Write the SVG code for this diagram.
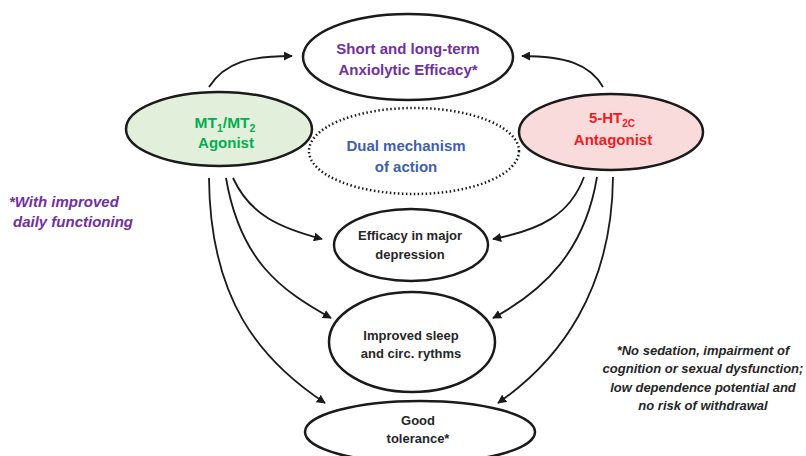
<svg xmlns="http://www.w3.org/2000/svg" width="806" height="456" viewBox="0 0 806 456">
<defs>
<marker id="ah" viewBox="0 0 10 10" refX="9" refY="5" markerWidth="9" markerHeight="9" markerUnits="userSpaceOnUse" orient="auto">
<path d="M0,0 L10,5 L0,10 z" fill="#1a1a1a"/>
</marker>
<style>
.n{fill:#fff;stroke:#1a1a1a;stroke-width:2.5}
.t{font-family:"Liberation Sans",Arial,sans-serif;font-weight:bold;font-size:13px;text-anchor:middle;fill:#262626}
.c{fill:none;stroke:#1a1a1a;stroke-width:1.8;marker-end:url(#ah)}
.note{font-family:"Liberation Sans",Arial,sans-serif;font-weight:bold;font-style:italic;font-size:13px;fill:#262626}
</style>
</defs>
<rect width="806" height="456" fill="#fff"/>
<g id="connectors">
<path class="c" d="M209,87 C225,62 250,56 292,56"/>
<path class="c" d="M603,87 C590,64 565,56 522,56"/>
<path class="c" d="M233,178 C250,215 280,228 322,239"/>
<path class="c" d="M226,178 C240,260 280,290 331,318"/>
<path class="c" d="M209,178 C210,300 260,360 325,403"/>
<path class="c" d="M584,177 C570,215 540,230 493,239"/>
<path class="c" d="M597,177 C585,250 545,290 493,318"/>
<path class="c" d="M613,177 C612,290 560,360 498,403"/>
</g>
<g id="anxiolytic">
<ellipse class="n" cx="408" cy="57" rx="105" ry="43"/>
<text class="t" x="408" y="54" style="fill:#7030A0;font-size:15px">Short and long-term</text>
<text class="t" x="408" y="75" style="fill:#7030A0;font-size:15px">Anxiolytic Efficacy*</text>
</g>
<g id="mt">
<ellipse class="n" cx="219" cy="129" rx="93" ry="37" style="fill:#E2EFDA"/>
<text class="t" x="225" y="128" style="fill:#00B050;font-size:15.5px">MT<tspan font-size="10.5" dy="4">1</tspan><tspan dy="-4">/MT</tspan><tspan font-size="10.5" dy="4">2</tspan></text>
<text class="t" x="226" y="148" style="fill:#00B050;font-size:15px">Agonist</text>
</g>
<g id="dual">
<ellipse cx="414" cy="151" rx="105" ry="43" fill="#fff" stroke="#1a1a1a" stroke-width="2.5" stroke-dasharray="1.5 2.5"/>
<text class="t" x="406" y="151" style="fill:#3F5FB0;font-size:15px">Dual mechanism</text>
<text class="t" x="406" y="172" style="fill:#3F5FB0;font-size:15px">of action</text>
</g>
<g id="ht">
<ellipse class="n" cx="611" cy="132" rx="92" ry="38" style="fill:#FADBDB"/>
<text class="t" x="612" y="123" style="fill:#EE1C25;font-size:15px">5-HT<tspan font-size="10" dy="4">2C</tspan></text>
<text class="t" x="613" y="145" style="fill:#EE1C25;font-size:15px">Antagonist</text>
</g>
<g id="depression">
<ellipse class="n" cx="411" cy="245" rx="77" ry="36"/>
<text class="t" x="410" y="240">Efficacy in major</text>
<text class="t" x="410" y="259">depression</text>
</g>
<g id="sleep">
<ellipse class="n" cx="412" cy="342" rx="83" ry="50"/>
<text class="t" x="411" y="340">Improved sleep</text>
<text class="t" x="411" y="358">and circ. rythms</text>
</g>
<g id="tolerance">
<ellipse class="n" cx="420" cy="432" rx="115" ry="31"/>
<text class="t" x="418" y="425">Good</text>
<text class="t" x="418" y="443">tolerance*</text>
</g>
<g id="notes">
<text class="note" x="9" y="207" style="fill:#7030A0;font-size:15px">*With improved</text>
<text class="note" x="13" y="227" style="fill:#7030A0;font-size:15px">daily functioning</text>
<text class="note" x="703" y="355" text-anchor="middle">*No sedation, impairment of</text>
<text class="note" x="703" y="373" text-anchor="middle">cognition or sexual dysfunction;</text>
<text class="note" x="703" y="392" text-anchor="middle">low dependence potential and</text>
<text class="note" x="703" y="410" text-anchor="middle">no risk of withdrawal</text>
</g>
</svg>
